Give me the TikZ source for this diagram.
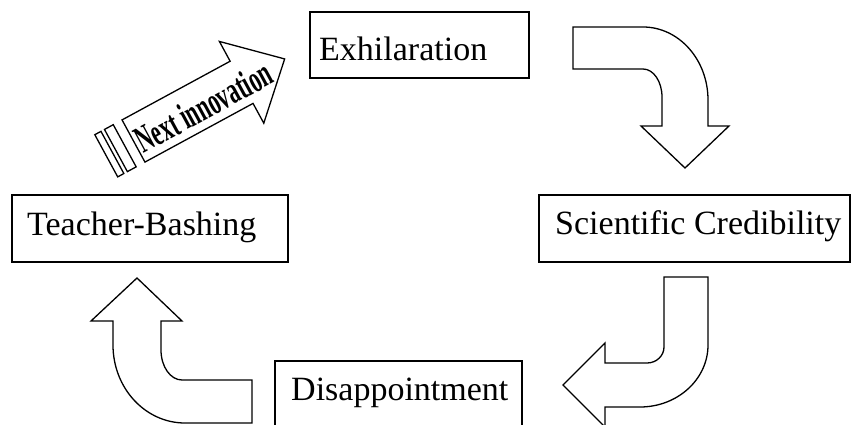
\documentclass[tikz,border=0pt]{standalone}
\usepackage{fontspec}
\setmainfont{Liberation Serif}
\usepackage{graphicx}
\begin{document}
\begin{tikzpicture}[x=1pt,y=-1pt,
  box/.style={draw, line width=1.6pt, inner sep=0pt, anchor=north west},
  lbl/.style={font=\fontsize{34}{40}\selectfont, inner sep=0pt, anchor=base west},
  arrowline/.style={draw, line width=1.3pt, line join=miter}]
\useasboundingbox (0,0) rectangle (851,425);
\clip (0,0) rectangle (851,425);

% boxes
\node[box, minimum width=276pt, minimum height=67pt] (tbbox) at (11,194) {};
\node[lbl] (tbtext) at (27,235) {Teacher-Bashing};
\node[box, minimum width=219pt, minimum height=66pt] (exbox) at (309,11) {};
\node[lbl] (extext) at (319,61) {Exhilaration};
\node[box, minimum width=311pt, minimum height=67pt] (scbox) at (538,194) {};
\node[lbl] (sctext) at (555,234) {Scientific Credibility};
\node[box, minimum width=247pt, minimum height=90pt] (dibox) at (274,360) {};
\node[lbl] (ditext) at (291,400) {Disappointment};

% bent arrow top right (pointing down)
\draw[arrowline] (573,27) -- (643,27)
  .. controls (678.9,27) and (708,59.7) .. (708,100)
  -- (708,126) -- (729,126) -- (685,168) -- (641,126) -- (662,126) -- (662,97)
  .. controls (662,81.5) and (653.5,69) .. (643,69)
  -- (573,69) -- cycle;

% bent arrow right bottom (pointing left)
\draw[arrowline] (664,277) -- (708,277) -- (708,345)
  .. controls (708,379.2) and (677.6,407) .. (640,407)
  -- (605,407) -- (605,427) -- (563,385) -- (605,343) -- (605,363) -- (647,363)
  .. controls (656.4,363) and (664,355.8) .. (664,347)
  -- cycle;

% bent arrow left bottom (pointing up)
\draw[arrowline] (137,278) -- (182,321) -- (161,321) -- (161,350)
  .. controls (161,366.6) and (170.4,380) .. (182,380)
  -- (252,380) -- (252,423) -- (185,423)
  .. controls (145.2,423) and (113,388.1) .. (113,345)
  -- (113,321) -- (91,321) -- cycle;

% striped arrow "Next innovation"
\begin{scope}[shift={(133.5,141)}, rotate=28.5]
  \draw[arrowline] (0,-24) -- (123,-24) -- (123,-46.5) -- (172,0) -- (123,46.5) -- (123,24) -- (0,24) -- cycle;
  \draw[arrowline] (-20,-24) rectangle (-10,24);
  \draw[arrowline] (-31,-24) rectangle (-24,24);
  \node[rotate=28.5, inner sep=0pt, font=\bfseries\fontsize{38}{42}\selectfont] (nitext) at (78,3) {\scalebox{0.58}[1]{Next innovation}};
\end{scope}
\end{tikzpicture}
\end{document}
